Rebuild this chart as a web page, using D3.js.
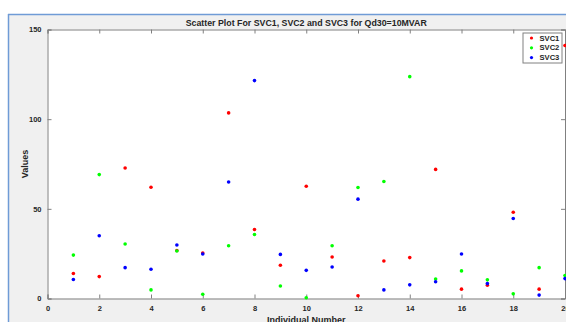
<!DOCTYPE html>
<html>
<head>
<meta charset="utf-8">
<script src="https://cdn.jsdelivr.net/npm/d3@7"></script>
<style>
body { margin: 0; background: #fff; }
text { font-family: "Liberation Sans", Arial, sans-serif; fill: #262626; }
</style>
</head>
<body>
<script>
// values (individuals 1..20)
var individuals = [1,2,3,4,5,6,7,8,9,10,11,12,13,14,15,16,17,18,19,20];
var svc1 = [13.9,12.2,72.8,62.0,26.8,25.4,103.5,38.5,18.5,62.6,23.1,1.5,20.9,22.8,72.0,5.2,7.4,48.1,5.2,141.1];
var svc2 = [24.2,69.1,30.4,4.8,26.5,2.4,29.4,35.7,7.0,0.4,29.4,61.9,65.2,123.7,10.9,15.4,10.4,2.6,17.2,12.8];
var svc3 = [10.6,35.0,17.2,16.3,29.8,24.8,65.0,121.5,24.6,15.7,17.6,55.4,4.8,7.6,9.3,24.8,8.3,44.6,1.9,11.1];
var seriesNames = ["SVC1","SVC2","SVC3"];
var seriesColors = ["#ff0000","#00ff00","#0000ff"];
var xTicks = [0,2,4,6,8,10,12,14,16,18,20];
var yTicks = [0,50,100,150];

var width = 566, height = 322;

var svg = d3.select('body').append('svg')
            .attr('width', width)
            .attr('height', height);

// figure window background + blue frame
svg.append('rect').attr('x',9).attr('y',15).attr('width',width-9).attr('height',height-15).attr('fill','#f0f0f0');
svg.append('line').attr('x1',8.5).attr('x2',8.5).attr('y1',14).attr('y2',height).attr('stroke','#6f9bd6').attr('stroke-width',1.5);
svg.append('line').attr('x1',8).attr('x2',width).attr('y1',14.5).attr('y2',14.5).attr('stroke','#6f9bd6').attr('stroke-width',1.5);

var x = d3.scaleLinear().domain([0,20]).range([47.5,565]);
var y = d3.scaleLinear().domain([0,150]).range([298.5,29.5]);

var plot = svg.append('g');
plot.append('rect')
    .attr('x',x(0)).attr('y',y(150))
    .attr('width',x(20)-x(0)).attr('height',y(0)-y(150))
    .attr('fill','#fff');

var xAxis = d3.axisBottom(x).tickValues(xTicks).tickSize(-4).tickPadding(7).tickFormat(d3.format('d'));
var yAxis = d3.axisLeft(y).tickValues(yTicks).tickSize(-4).tickPadding(6).tickFormat(d3.format('d'));

var gx = plot.append('g').attr('transform','translate(0,'+y(0)+')').call(xAxis);
var gy = plot.append('g').attr('transform','translate('+x(0)+',0)').call(yAxis);
// box top/right with inside ticks
var gxt = plot.append('g').attr('transform','translate(0,'+y(150)+')').call(d3.axisTop(x).tickValues(xTicks).tickSize(-4).tickFormat(''));
var gyr = plot.append('g').attr('transform','translate('+x(20)+',0)').call(d3.axisRight(y).tickValues(yTicks).tickSize(-4).tickFormat(''));

[gx,gy,gxt,gyr].forEach(function(g){
  g.selectAll('path,line').attr('stroke','#808080');
  g.selectAll('text').style('font-size','7.5px').style('font-weight','bold').attr('fill','#262626');
});

// points: SVC1 first, SVC3 on top
var series = [svc1, svc2, svc3];
series.forEach(function(vals, i){
  plot.append('g').selectAll('circle')
      .data(vals)
      .enter().append('circle')
      .attr('cx', function(d,j){ return x(individuals[j]); })
      .attr('cy', function(d){ return y(d); })
      .attr('r', 1.8)
      .attr('fill', seriesColors[i]);
});

// title and labels
svg.append('text').attr('x',(x(0)+x(20))/2).attr('y',25.5)
   .attr('text-anchor','middle').style('font-size','8.8px').style('font-weight','bold')
   .attr('fill','#000')
   .text('Scatter Plot For SVC1, SVC2 and SVC3 for Qd30=10MVAR');
svg.append('text').attr('x',(x(0)+x(20))/2).attr('y',323)
   .attr('text-anchor','middle').style('font-size','9px').style('font-weight','bold')
   .text('Individual Number');
svg.append('text').attr('transform','translate(27.5,'+((y(0)+y(150))/2)+') rotate(-90)')
   .attr('text-anchor','middle').style('font-size','9px').style('font-weight','bold')
   .text('Values');

// legend
var legend = svg.append('g').attr('transform','translate(523,33)');
legend.append('rect').attr('x',0).attr('y',0).attr('width',39).attr('height',30)
      .attr('fill','#fff').attr('stroke','#808080');
seriesNames.forEach(function(name,i){
  legend.append('circle').attr('cx',8.5).attr('cy',5 + i*9.8).attr('r',1.6).attr('fill',seriesColors[i]);
  legend.append('text').attr('x',16.5).attr('y',5 + i*9.8).attr('dy','0.35em')
        .style('font-size','7.6px').style('font-weight','bold').text(name);
});
</script>
</body>
</html>
